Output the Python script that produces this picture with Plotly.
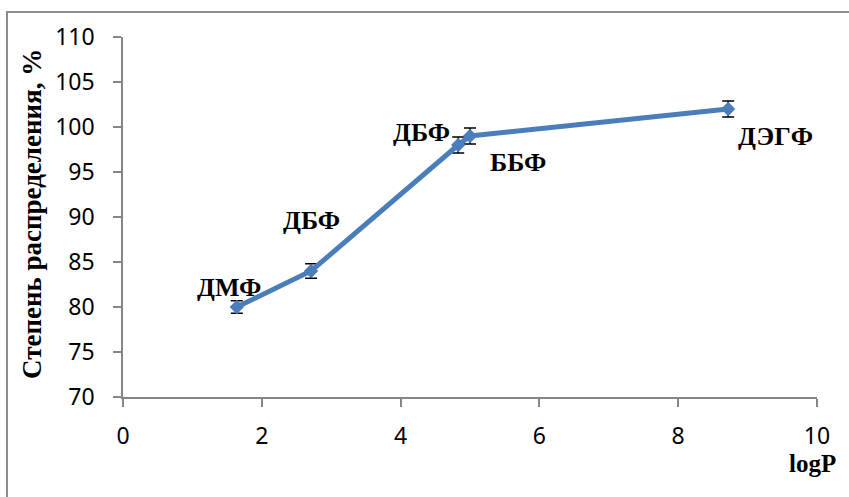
import plotly.graph_objects as go

# Solvent data: hydrophobicity (logP) vs. distribution degree
solvents = ["ДМФ", "ДБФ", "ДБФ", "ББФ", "ДЭГФ"]
log_p = [1.64, 2.71, 4.83, 5.0, 8.72]
distribution = [80.0, 84.0, 98.0, 99.0, 102.0]
errors = [0.7, 0.8, 0.9, 0.9, 0.9]

# Label offsets (px) relative to each point
label_dx = [-8, 0, -37, 48, 47]
label_dy = [20, 51, 13, -26, -27]

x_ticks = [0, 2, 4, 6, 8, 10]
y_ticks = [70, 75, 80, 85, 90, 95, 100, 105, 110]

blue = "#4A7EBB"
axis_gray = "#868686"
serif = "Liberation Serif, Times New Roman, serif"
sans = "Noto Sans, Open Sans, sans-serif"

fig = go.Figure()
fig.add_trace(go.Scatter(
    x=log_p, y=distribution,
    mode="lines+markers",
    line=dict(color=blue, width=5),
    marker=dict(symbol="diamond", size=11, color=blue),
    error_y=dict(type="data", array=errors, visible=True,
                 color="black", thickness=1.5, width=6),
    showlegend=False,
    hoverinfo="skip",
))

annotations = []
for name, xv, yv, dx, dy in zip(solvents, log_p, distribution, label_dx, label_dy):
    annotations.append(dict(
        x=xv, y=yv, xref="x", yref="y", text=name, showarrow=False,
        xshift=dx, yshift=dy, xanchor="center", yanchor="middle",
        font=dict(family=serif, size=26, color="black", weight="bold"),
    ))

# Axis titles
annotations.append(dict(
    x=(812 - 123) / 694, y=(397 - 463) / 360, xref="paper", yref="paper",
    text="logP", showarrow=False, xanchor="center", yanchor="middle",
    font=dict(family=serif, size=25, color="black", weight="bold"),
))
annotations.append(dict(
    x=(32 - 123) / 694, y=(397 - 214) / 360, xref="paper", yref="paper",
    text="Степень распределения, %", showarrow=False, textangle=-90,
    xanchor="center", yanchor="middle",
    font=dict(family=serif, size=27, color="black", weight="bold"),
))

# Chart frame (left and top edges)
px_x = lambda p: (p - 123) / 694
px_y = lambda p: (397 - p) / 360
shapes = [dict(
    type="path", xref="paper", yref="paper",
    path=f"M {px_x(7)} {px_y(500)} L {px_x(7)} {px_y(12)} L {px_x(852)} {px_y(12)}",
    line=dict(color="#8C8C8C", width=2),
)]

fig.update_layout(
    width=849, height=497,
    margin=dict(l=123, r=32, t=37, b=100),
    paper_bgcolor="white", plot_bgcolor="white",
    annotations=annotations, shapes=shapes,
    xaxis=dict(
        range=[0, 10], tickvals=x_ticks, showgrid=False, zeroline=False,
        showline=True, linecolor=axis_gray, linewidth=1.5,
        ticks="outside", ticklen=8, tickcolor=axis_gray, tickwidth=1.5,
        tickfont=dict(family=sans, size=23, color="black"),
        ticklabelstandoff=10,
    ),
    yaxis=dict(
        range=[70, 110], tickvals=y_ticks, showgrid=False, zeroline=False,
        showline=True, linecolor=axis_gray, linewidth=1.5,
        ticks="outside", ticklen=8, tickcolor=axis_gray, tickwidth=1.5,
        tickfont=dict(family=sans, size=23, color="black"),
        ticklabelstandoff=14,
    ),
)

fig.write_html("out.html")
